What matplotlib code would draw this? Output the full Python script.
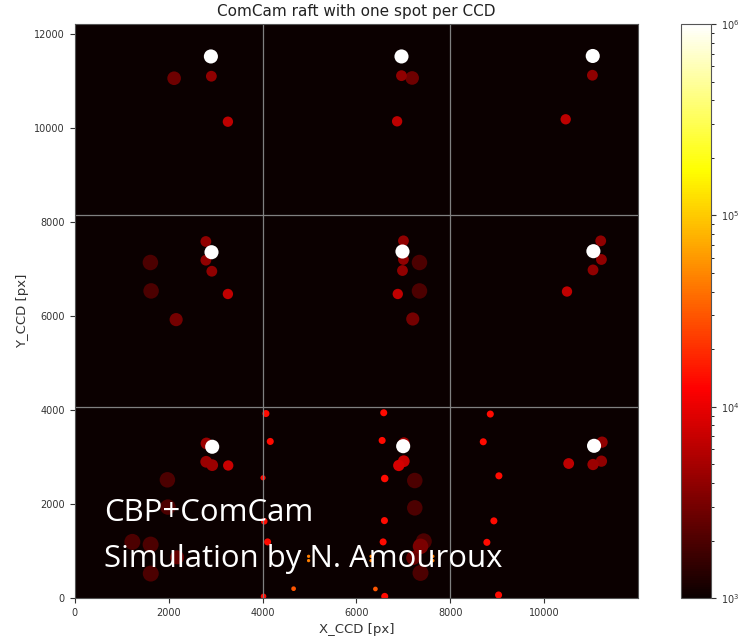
import matplotlib
matplotlib.use("Agg")
import matplotlib.pyplot as plt
from matplotlib.colors import LogNorm
from matplotlib.patches import Circle
from matplotlib.collections import PatchCollection

# raft geometry: 3 x 3 CCDs of 4000 x 4072 px
ccd_width = 4000
ccd_height = 4072
n_ccd = 3

# spot centres [px], peak flux and spot radius [px]
spot_x = [
    # top row
    2900, 2117, 2910, 3262,
    6958, 6958, 7185, 6865,
    11030, 11023, 10454,
    # middle row
    2793, 2913, 2793, 2920, 1612, 1627, 3262, 2160,
    7000, 6979, 7000, 6979, 7341, 7341, 6879, 7198,
    11200, 11044, 11215, 11036, 10482,
    # bottom row
    2806, 2928, 2800, 2928, 3269, 1974, 1985, 1228, 1617, 2180, 1620,
    4072, 4164, 4010, 4036, 4107, 4021,
    4980, 4980, 6311, 6311, 7626, 7626, 4661, 6403,
    6580, 6546, 6601, 6595, 6567, 6601,
    7010, 6994, 7007, 6900,
    7241, 7241, 7433, 7363, 7207, 7363,
    8849, 8699, 11229, 11058, 11036, 11215, 10518, 9032, 8925, 8776, 9025,
]
spot_y = [
    11530, 11066, 11109, 10141,
    11530, 11121, 11072, 10149,
    11540, 11130, 10192,
    7590, 7362, 7192, 6957, 7143, 6538, 6473, 5927,
    7604, 7377, 7207, 6972, 7143, 6537, 6473, 5940,
    7604, 7384, 7207, 6985, 6525,
    3290, 3220, 2900, 2828, 2821, 2516, 1936, 1195, 1137, 866, 520,
    3927, 3333, 2559, 1633, 1194, 34,
    887, 796, 887, 796, 887, 796, 198, 192,
    3944, 3354, 2544, 1648, 1194, 34,
    3300, 3232, 2912, 2821,
    2501, 1919, 1207, 1100, 853, 533,
    3916, 3326, 3318, 3240, 2842, 2913, 2863, 2601, 1642, 1185, 64,
]
spot_flux = [
    1e6, 2.8e3, 4.0e3, 6.3e3,
    1e6, 4.0e3, 2.8e3, 6.3e3,
    1e6, 4.0e3, 6.3e3,
    4.0e3, 1e6, 4.0e3, 4.0e3, 2.0e3, 2.0e3, 6.6e3, 3.0e3,
    4.0e3, 1e6, 4.0e3, 4.0e3, 2.0e3, 2.0e3, 6.6e3, 3.0e3,
    4.0e3, 1e6, 4.0e3, 4.0e3, 6.6e3,
    4.5e3, 1e6, 4.5e3, 4.5e3, 7.0e3, 2.0e3, 2.0e3, 2.0e3, 2.0e3, 2.6e3, 2.0e3,
    1.4e4, 1.4e4, 1.4e4, 1.4e4, 1.4e4, 1.4e4,
    4.5e4, 4.5e4, 4.5e4, 4.5e4, 4.5e4, 4.5e4, 3.0e4, 3.0e4,
    1.4e4, 1.4e4, 1.4e4, 1.4e4, 1.4e4, 1.4e4,
    5.0e3, 1e6, 7.0e3, 8.0e3,
    2.0e3, 2.0e3, 2.0e3, 3.2e3, 2.6e3, 2.0e3,
    1.4e4, 1.4e4, 4.0e3, 1e6, 4.5e3, 4.0e3, 6.3e3, 1.4e4, 1.4e4, 1.4e4, 1.4e4,
]
spot_radius = [
    150, 145, 115, 110,
    150, 115, 145, 110,
    150, 115, 110,
    115, 150, 115, 115, 165, 165, 110, 140,
    115, 150, 115, 115, 165, 165, 110, 140,
    115, 150, 115, 115, 110,
    125, 150, 125, 125, 110, 165, 165, 170, 170, 150, 170,
    75, 75, 55, 70, 75, 60,
    35, 35, 35, 35, 35, 35, 50, 50,
    75, 75, 80, 75, 75, 75,
    120, 150, 125, 120,
    165, 165, 170, 165, 150, 170,
    75, 75, 120, 150, 120, 120, 115, 75, 75, 75, 75,
]

fig = plt.figure(figsize=(7.38, 6.37), dpi=100)
ax = fig.add_axes([0.1012, 0.0608, 0.7637, 0.9016])
cax = fig.add_axes([0.9228, 0.0608, 0.0407, 0.9016])

norm = LogNorm(vmin=1e3, vmax=1e6)
cmap = plt.get_cmap("hot")
ax.set_facecolor(cmap(0.0))

# faint spots first so the bright ones end up on top
order = sorted(range(len(spot_x)), key=lambda i: spot_flux[i])
circles = [Circle((spot_x[i], spot_y[i]), spot_radius[i]) for i in order]
spots = PatchCollection(circles, cmap=cmap, norm=norm, edgecolor="none")
spots.set_array([spot_flux[i] for i in order])
ax.add_collection(spots)

# CCD boundaries
for k in range(1, n_ccd):
    ax.axvline(k * ccd_width, color="0.5", lw=0.9)
    ax.axhline(k * ccd_height, color="0.5", lw=0.9)

ax.set_xlim(0, n_ccd * ccd_width)
ax.set_ylim(0, n_ccd * ccd_height)
ax.set_aspect("equal")
ax.set_xticks(range(0, 12000, 2000))
ax.set_yticks(range(0, 12001, 2000))
ax.tick_params(labelsize=7, colors="#333333")
ax.set_xlabel("X_CCD [px]", fontsize=9.5, color="#333333")
ax.set_ylabel("Y_CCD [px]", fontsize=9.5, color="#333333")
ax.set_title("ComCam raft with one spot per CCD", fontsize=11, color="#222222")
for s in ax.spines.values():
    s.set_color("#555555")

cb = fig.colorbar(spots, cax=cax)
cb.ax.tick_params(labelsize=7, colors="#333333")
cb.outline.set_edgecolor("#555555")

fig.text(104 / 738, 1 - 521 / 637, "CBP+ComCam", color="white",
         fontsize=22.4, family="Open Sans", va="baseline")
fig.text(104 / 738, 1 - 566.7 / 637, "Simulation by N. Amouroux", color="white",
         fontsize=22.4, family="Open Sans", va="baseline")

fig.savefig("out.png", dpi=100)
plt.close(fig)
